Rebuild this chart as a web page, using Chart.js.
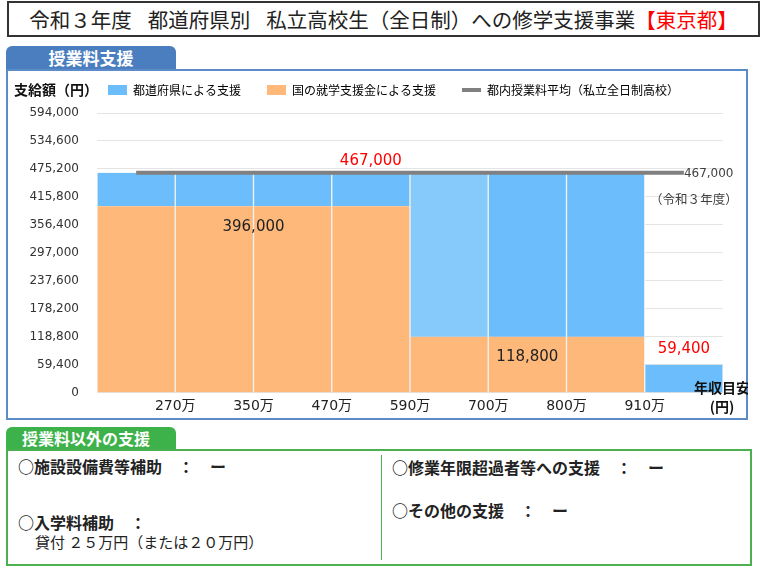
<!DOCTYPE html>
<html lang="ja">
<head>
<meta charset="utf-8">
<script src="https://cdn.jsdelivr.net/npm/chart.js@4.4.1/dist/chart.umd.min.js"></script>
<style>
  body { margin: 0; width: 768px; height: 568px; background: #fff; position: relative; overflow: hidden;
         font-family: 'Noto Sans CJK JP', sans-serif; color: #222; }
  .abs { position: absolute; }
  #title { left: 7px; top: 1px; width: 749px; height: 32px; border: 2px solid #333; font-size: 20.5px;
           line-height: 32px; text-align: center; white-space: nowrap; }
  #title .red { color: #ff0000; }
  #title .sp { display: inline-block; width: 16px; }
  .tab { color: #fff; font-weight: bold; border-radius: 6px 6px 0 0; white-space: nowrap; }
  #tab1 { left: 6px; top: 46px; width: 170px; height: 24px; background: #4a7ebf; font-size: 17px;
          line-height: 24px; text-align: center; }
  #panel1 { left: 6px; top: 69px; width: 738px; height: 347px; border: 2px solid #5b8bc9; }
  #tab2 { left: 6px; top: 427px; width: 154px; height: 23px; background: #3db24a; font-size: 16px;
          line-height: 23px; padding-left: 16px; }
  #panel2 { left: 6px; top: 449px; width: 742px; height: 113px; border: 2px solid #4cb050; }
  #divider { left: 381px; top: 455px; width: 1px; height: 105px; background: #4cb050; }
  .item { font-size: 16px; font-weight: bold; white-space: nowrap; line-height: 20px; }
  .sub { font-size: 15px; white-space: nowrap; line-height: 20px; }
  #chart { left: 8px; top: 58px; }
</style>
</head>
<body>
<div id="title" class="abs">令和３年度<span class="sp"></span>都道府県別<span class="sp"></span>私立高校生（全日制）への修学支援事業<span class="red">【東京都】</span></div>
<div id="tab1" class="abs tab">授業料支援</div>
<div id="panel1" class="abs"></div>
<div id="tab2" class="abs tab">授業料以外の支援</div>
<div id="panel2" class="abs"></div>
<div id="divider" class="abs"></div>
<div class="abs item" style="left:18px; top:456px;">○施設設備費等補助　：　ー</div>
<div class="abs item" style="left:18px; top:512px;">○入学料補助　：</div>
<div class="abs sub" style="left:35px; top:532px;">貸付 ２５万円（または２０万円）</div>
<div class="abs item" style="left:392px; top:457px;">○修業年限超過者等への支援　：　ー</div>
<div class="abs item" style="left:392px; top:500px;">○その他の支援　：　ー</div>
<canvas id="chart" class="abs" width="740" height="360"></canvas>

<script>
// 年収区分（棒）と境界の目盛
const categorias = ['〜270万', '270〜350万', '350〜470万', '470〜590万', '590〜700万', '700〜800万', '800〜910万', '910万〜'];
const rotulosRenda = ['270万', '350万', '470万', '590万', '700万', '800万', '910万'];

// 支給額（円）
const apoioNacional = [396000, 396000, 396000, 396000, 118800, 118800, 118800, 0];
const apoioProvincia = [71000, 71000, 71000, 71000, 348200, 348200, 348200, 59400];
const mediaMensalidade = [467000, 467000, 467000, 467000, 467000, 467000, 467000, 467000];

const passoY = 59400;
const maxY = 594000;

const azul = '#6bbdfb';
const azulClaro = '#86c9fb';
const laranja = '#fdb87a';
const cinza = '#808080';

const coresProvincia = apoioProvincia.map((v, i) => i === 4 ? azulClaro : azul);

const fonteNum = "'DejaVu Sans', 'Noto Sans CJK JP', sans-serif";
const fonteJp = "'Noto Sans CJK JP', sans-serif";

// textos fixos sobre o gráfico
const textosPlugin = {
    id: 'textos',
    afterInit(chart) {
        // espaço extra entre a legenda e o gráfico
        const fitOriginal = chart.legend.fit;
        chart.legend.fit = function () {
            fitOriginal.call(this);
            this.height += 7;
        };
    },
    afterLayout(chart) {
        chart.legend.left = 74;
    },
    afterDraw(chart) {
        const ctx = chart.ctx;
        const x = chart.scales.x2;
        const y = chart.scales.y;
        const area = chart.chartArea;
        ctx.save();
        ctx.textAlign = 'center';
        ctx.textBaseline = 'middle';

        ctx.font = '15px ' + fonteNum;
        ctx.fillStyle = '#ff0000';
        ctx.fillText(mediaMensalidade[0].toLocaleString('en-US'), x.getPixelForValue(3), y.getPixelForValue(mediaMensalidade[0]) - 12);
        ctx.fillText(apoioProvincia[7].toLocaleString('en-US'), x.getPixelForValue(7), y.getPixelForValue(apoioProvincia[7]) - 16);

        ctx.fillStyle = '#222';
        ctx.fillText(apoioNacional[0].toLocaleString('en-US'), x.getPixelForValue(1.5), y.getPixelForValue(apoioNacional[0]) + 21);
        ctx.fillText(apoioNacional[5].toLocaleString('en-US'), x.getPixelForValue(5), y.getPixelForValue(apoioNacional[5]) + 20);

        // rótulo da linha de média
        ctx.fillStyle = '#404040';
        ctx.font = '12px ' + fonteNum;
        ctx.textAlign = 'left';
        ctx.fillText(mediaMensalidade[7].toLocaleString('en-US'), x.getPixelForValue(7), y.getPixelForValue(mediaMensalidade[7]) + 1);
        ctx.textAlign = 'center';
        ctx.font = '12.5px ' + fonteJp;
        ctx.fillText('（令和３年度）', x.getPixelForValue(7) + 10, y.getPixelForValue(mediaMensalidade[7]) + 26);

        // títulos dos eixos
        ctx.fillStyle = '#111';
        ctx.font = 'bold 14px ' + fonteJp;
        ctx.fillText('年収目安', area.right - 1, area.bottom - 5);
        ctx.fillText('(円)', area.right - 1, area.bottom + 14);
        ctx.textAlign = 'left';
        ctx.fillText('支給額（円）', 6, area.top - 23);
        ctx.restore();
    }
};

const bordaBarra = { left: 1, right: 1, top: 0, bottom: 0 };

const config = {
    type: 'bar',
    data: {
        labels: categorias,
        datasets: [
            {
                label: '国の就学支援金による支援',
                data: apoioNacional,
                backgroundColor: laranja,
                borderColor: '#f2f2f2',
                borderWidth: bordaBarra,
                order: 1
            },
            {
                label: '都道府県による支援',
                data: apoioProvincia,
                backgroundColor: coresProvincia,
                borderColor: '#f2f2f2',
                borderWidth: bordaBarra,
                order: 1
            },
            {
                type: 'line',
                label: '都内授業料平均（私立全日制高校）',
                data: mediaMensalidade,
                borderColor: cinza,
                backgroundColor: cinza,
                borderWidth: 4,
                pointRadius: 0,
                order: -1
            }
        ]
    },
    options: {
        responsive: false,
        animation: false,
        layout: { padding: { left: 0, right: 25, top: 0, bottom: 0 } },
        datasets: { bar: { barPercentage: 1, categoryPercentage: 1 } },
        plugins: {
            tooltip: { enabled: false },
            legend: {
                position: 'top',
                align: 'start',
                labels: {
                    font: { family: fonteJp, size: 12 },
                    color: '#333',
                    padding: 26,
                    boxHeight: 10,
                    usePointStyle: true,
                    pointStyleWidth: 19,
                    generateLabels: function () {
                        return [
                            { text: '都道府県による支援', fillStyle: azul, strokeStyle: azul, lineWidth: 0, pointStyle: 'rect', datasetIndex: 1 },
                            { text: '国の就学支援金による支援', fillStyle: laranja, strokeStyle: laranja, lineWidth: 0, pointStyle: 'rect', datasetIndex: 0 },
                            { text: '都内授業料平均（私立全日制高校）', fillStyle: cinza, strokeStyle: cinza, lineWidth: 4, pointStyle: 'line', datasetIndex: 2 }
                        ];
                    }
                }
            }
        },
        scales: {
            x: {
                stacked: true,
                display: false
            },
            x2: {
                type: 'linear',
                position: 'bottom',
                offset: false,
                min: -0.5,
                max: 7.5,
                grid: { display: false, offset: false, drawTicks: false },
                border: { display: false },
                afterBuildTicks: function (escala) {
                    escala.ticks = rotulosRenda.map((r, i) => ({ value: i + 0.5 }));
                },
                afterFit: function (escala) {
                    escala.height = 25;
                },
                ticks: {
                    autoSkip: false,
                    maxRotation: 0,
                    padding: 5,
                    color: '#222',
                    font: { family: fonteNum, size: 14 },
                    callback: function (valor, indice) {
                        return rotulosRenda[indice];
                    }
                }
            },
            y: {
                stacked: true,
                min: 0,
                max: maxY,
                border: { display: false },
                grid: { color: '#e4e4e4', drawTicks: false },
                afterFit: function (escala) {
                    escala.width = 89;
                },
                ticks: {
                    stepSize: passoY,
                    padding: 18,
                    color: '#333',
                    font: { family: fonteNum, size: 12 },
                    callback: function (valor) {
                        return valor.toLocaleString('en-US');
                    }
                }
            }
        }
    },
    plugins: [textosPlugin]
};

const ctx = document.getElementById('chart').getContext('2d');
const grafico = new Chart(ctx, config);
</script>
</body>
</html>
